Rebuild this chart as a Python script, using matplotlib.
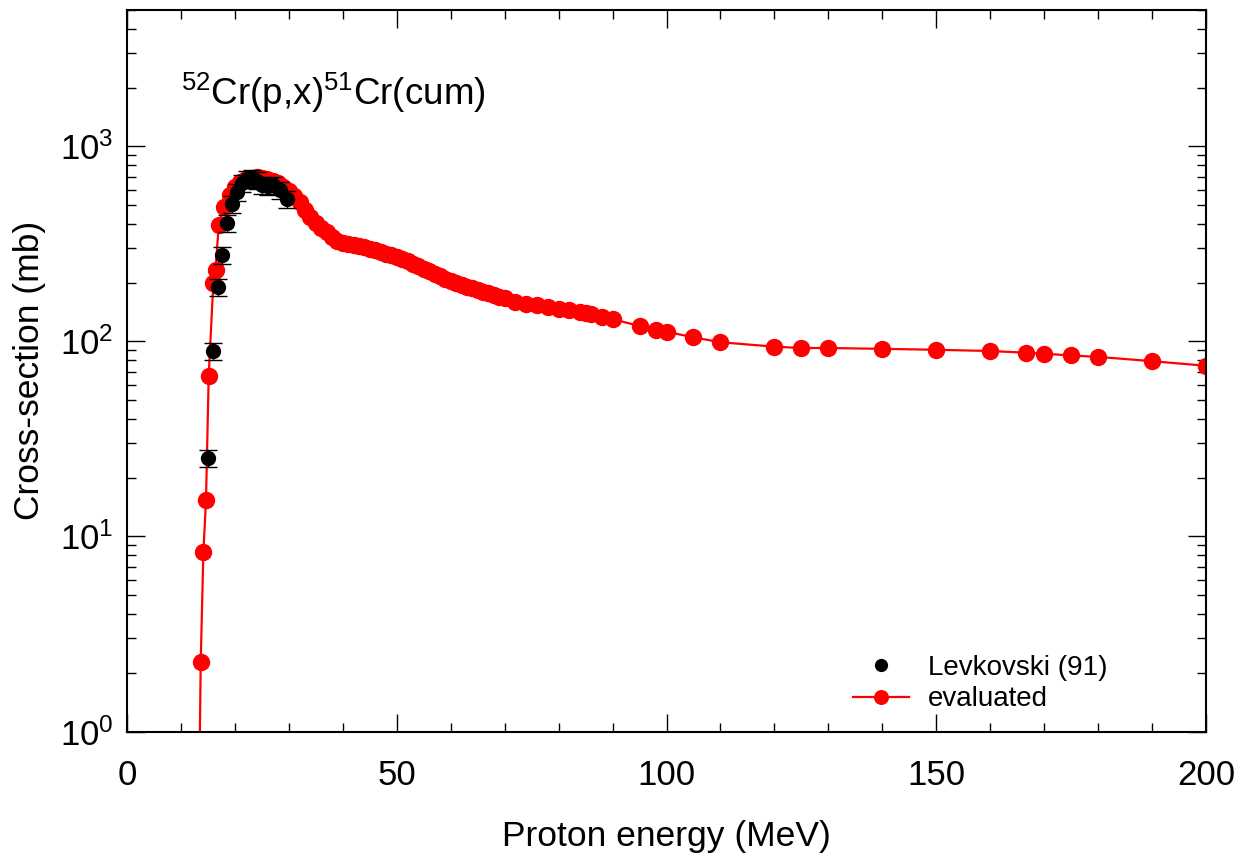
import numpy as np
import matplotlib
matplotlib.use("Agg")
import matplotlib.pyplot as plt
from matplotlib.ticker import LogLocator, MultipleLocator, NullFormatter

plt.rcParams['font.family'] = ['Liberation Sans', 'DejaVu Sans']
plt.rcParams['mathtext.fontset'] = 'custom'
plt.rcParams['mathtext.rm'] = 'Liberation Sans'
plt.rcParams['mathtext.it'] = 'Liberation Sans:italic'
plt.rcParams['mathtext.bf'] = 'Liberation Sans:bold'

# evaluated curve (MeV, mb)
eval_e = [13.2, 13.66, 14.15, 14.64, 15.14, 16.0, 16.4, 17.0, 18.0, 19.0, 20.0,
          21.0, 22.0, 23.0, 24.0, 25.0, 26.0, 27.0, 28.0, 29.0, 30.0, 31.0, 32.0,
          33.0, 34.0, 35.0, 36.0, 37.0, 38.0, 39.0, 40.0, 41.0, 42.0, 43.0, 44.0,
          45.0, 46.0, 47.0, 48.0, 49.0, 50.0, 51.0, 52.0, 53.0, 54.0, 55.0, 56.0,
          57.0, 58.0, 59.0, 60.0, 61.0, 62.0, 63.0, 64.0, 65.0, 66.0, 67.0, 68.0,
          69.0, 70.0, 72.0, 74.0, 76.0, 78.0, 80.0, 82.0, 84.0, 85.0, 86.0, 88.0,
          90.0, 95.0, 98.0, 100.0, 105.0, 110.0, 120.0, 125.0, 130.0, 140.0, 150.0,
          160.0, 166.7, 170.0, 175.0, 180.0, 190.0, 200.0]
eval_xs = [0.2, 2.27, 8.3, 15.4, 66.8, 200, 232, 395, 490, 565, 620,
           655, 680, 692, 695, 690, 680, 668, 650, 622, 590, 555, 520,
           470, 432, 405, 382, 362, 342, 328, 320, 315, 311, 307, 303,
           298, 293, 288, 282, 276, 270, 264, 257, 250, 243, 236, 229,
           222, 216, 210, 205, 200, 195, 191, 187, 183, 180, 177, 173,
           169, 166, 160, 155, 153, 150, 147, 145, 142, 140, 139, 133,
           130, 120, 115, 112, 105, 99, 94, 92.5, 92.5, 91.6, 90.6,
           89.3, 87.5, 86.5, 84.7, 83.3, 79.2, 75]

# Levkovski (91)
exp_e = [14.95, 15.88, 16.8, 17.6, 18.5, 19.4, 20.3, 21.3, 22.2, 23.1, 24.0,
         25.0, 26.2, 27.1, 28.4, 29.6]
exp_xs = [25.2, 89.5, 191, 278, 404, 506, 583, 649, 680, 688, 668,
          635, 623, 635, 599, 539]
exp_err = [0.1 * v for v in exp_xs]

fig = plt.figure(figsize=(12.54, 8.67), dpi=100)
ax = fig.add_axes([0.1013, 0.1562, 0.8604, 0.8323])

ax.plot(eval_e, eval_xs, '-o', color='#ff0000', lw=1.6, ms=11.5,
        label='evaluated', zorder=2)
ax.errorbar(exp_e, exp_xs, yerr=exp_err, fmt='none', ecolor='black',
            elinewidth=1.0, capsize=6.5, capthick=1.0, zorder=3)
ax.plot(exp_e, exp_xs, 'o', color='black', ms=10, ls='none',
        label='Levkovski (91)', zorder=4)

ax.set_yscale('log')
ax.set_xlim(0, 200)
ax.set_ylim(1, 5000)

ax.xaxis.set_major_locator(MultipleLocator(50))
ax.xaxis.set_minor_locator(MultipleLocator(10))
ax.yaxis.set_major_locator(LogLocator(base=10, numticks=10))
ax.yaxis.set_minor_locator(LogLocator(base=10, subs=np.arange(2, 10), numticks=20))
ax.yaxis.set_minor_formatter(NullFormatter())

ax.tick_params(which='both', direction='in', top=True, right=True,
               labelsize=25, width=1.0)
ax.tick_params(axis='x', which='major', length=13, pad=20)
ax.tick_params(axis='y', which='major', length=13, pad=10)
ax.tick_params(which='minor', length=6.5)
for s in ax.spines.values():
    s.set_linewidth(1.5)

ax.set_xlabel('Proton energy (MeV)', fontsize=25.5, labelpad=20)
ax.set_ylabel('Cross-section (mb)', fontsize=25.5, labelpad=10)

ax.text(0.05, 0.885, r'$\mathregular{^{52}}$Cr(p,x)$\mathregular{^{51}}$Cr(cum)',
        transform=ax.transAxes, fontsize=26.5, ha='left', va='center')

h, l = ax.get_legend_handles_labels()
ax.legend(h[::-1], l[::-1], loc='lower right', frameon=False, fontsize=20,
          handlelength=2.0, handletextpad=0.7, labelspacing=0.2,
          bbox_to_anchor=(0.932, -0.008), markerscale=0.85)

fig.savefig('out.png', dpi=100)
